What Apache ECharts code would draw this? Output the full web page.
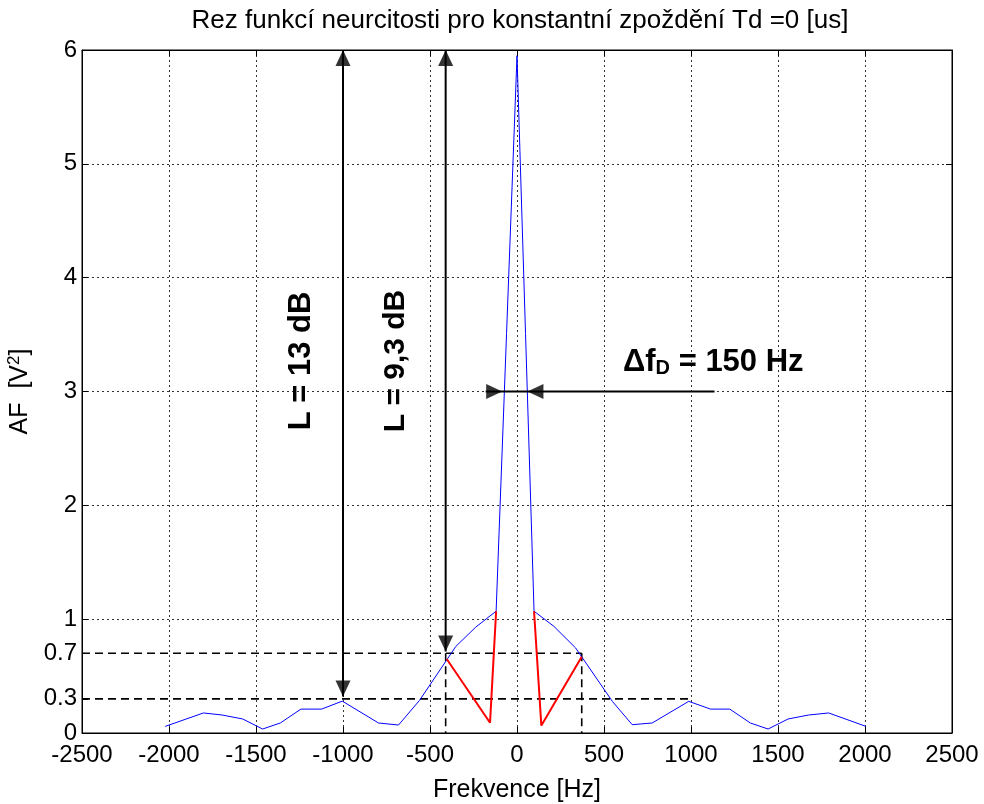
<!DOCTYPE html>
<html>
<head>
<meta charset="utf-8">
<script src="https://cdn.jsdelivr.net/npm/echarts@6/dist/echarts.min.js"></script>
<style>
  html, body { margin: 0; padding: 0; background: #fff; }
  #chart { width: 984px; height: 804px; }
</style>
</head>
<body>
<div id="chart"></div>
<script>
// řez funkcí neurčitosti
const freqBlue = [-2022, -1802, -1695, -1576, -1462, -1360, -1242, -1123, -1004, -796, -681, -560,
                  -352, -237, -120, 0, 98, 212, 337, 548, 662, 777, 987, 1112, 1223, 1341, 1443,
                  1558, 1676, 1791, 2006];
const afBlue = [0.058, 0.176, 0.158, 0.123, 0.035, 0.088, 0.21, 0.21, 0.28, 0.088, 0.07, 0.287,
                0.76, 0.93, 1.07, 5.95, 1.07, 0.937, 0.747, 0.278, 0.073, 0.088, 0.278, 0.21, 0.21,
                0.088, 0.035, 0.123, 0.158, 0.176, 0.058];

// červené úseky (postranní laloky)
const freqRedLeft = [-404, -155, -120];
const afRedLeft = [0.65, 0.09, 1.07];
const freqRedRight = [98, 140, 372];
const afRedRight = [1.07, 0.065, 0.67];

// osy
const yTicks = [0, 0.3, 0.7, 1, 2, 3, 4, 5, 6];

// pomocné čáry (úrovně 0.3 a 0.7)
const levelLow = 0.3, levelHigh = 0.7;
const levelLowEnd = 1000, levelHighEnd = 372;
const markLeftF = -410, markRightF = 372;

// šipky L = 13 dB, L = 9,3 dB a delta f
const arrowL13 = { f: -1000, from: 6, to: 0.32 };
const arrowL93 = { f: -410, from: 6, to: 0.715 };
const arrowDf = { y: 3, lineFrom: -180, lineTo: 1135, tipLeft: -85, tipRight: 60 };

const FONT = "'Liberation Sans', Arial, sans-serif";
const GRID = { left: 82, right: 32, top: 50, bottom: 71 };
const plotW = 984 - GRID.left - GRID.right;
const plotH = 804 - GRID.top - GRID.bottom;
const pxPerHz = plotW / 5000;
const pxPerUnit = plotH / 6;
const HEAD = [15, 16]; // šířka, délka hrotu

const pairs = (xs, ys) => xs.map((x, i) => [x, ys[i]]);

function seg(data, style) {
    return {
        type: 'line', data: data, symbol: 'none', silent: true,
        lineStyle: Object.assign({ color: '#000', width: 2 }, style),
        z: style.z || 3
    };
}

// střed hrotu tak, aby špička ležela přesně v bodě
function head(x, y, dir) {
    const half = HEAD[1] / 2;
    if (dir === 'up') return { value: [x, y - half / pxPerUnit], symbolRotate: 0 };
    if (dir === 'down') return { value: [x, y + half / pxPerUnit], symbolRotate: 180 };
    if (dir === 'right') return { value: [x - half / pxPerHz, y], symbolRotate: -90 };
    return { value: [x + half / pxPerHz, y], symbolRotate: 90 };
}

const chart = echarts.init(document.getElementById('chart'));

const dashed = { type: [8, 5], width: 1.6, z: 2 };
const dotted = { color: '#333', type: [2, 3], width: 1 };
const tick = { inside: true, length: 6, lineStyle: { color: '#000' } };

const option = {
    animation: false,
    title: {
        text: 'Rez funkcí neurcitosti pro konstantní zpoždění Td =0 [us]',
        left: GRID.left + plotW / 2 - 2,
        textAlign: 'center',
        top: 3,
        textStyle: { fontFamily: FONT, fontSize: 26, fontWeight: 'normal', color: '#000' }
    },
    grid: Object.assign({
        show: true, borderColor: '#000', borderWidth: 1,
        containLabel: false, outerBoundsMode: 'none'
    }, GRID),
    xAxis: [{
        type: 'value', min: -2500, max: 2500, interval: 500,
        name: 'Frekvence [Hz]', nameLocation: 'middle', nameGap: 45,
        nameTextStyle: { fontFamily: FONT, fontSize: 25, color: '#000' },
        axisLine: { onZero: false, lineStyle: { color: '#000', width: 1 } },
        axisTick: tick,
        axisLabel: { fontFamily: FONT, fontSize: 24, color: '#000', margin: 10,
                     formatter: v => String(v) },
        splitLine: { show: true, lineStyle: dotted }
    }, {
        type: 'value', min: -2500, max: 2500, interval: 500, position: 'top',
        axisLine: { onZero: false, lineStyle: { color: '#000' } },
        axisTick: tick,
        axisLabel: { show: false }, splitLine: { show: false }
    }],
    yAxis: [{
        type: 'value', min: 0, max: 6, interval: 1,
        name: 'AF  [V{sup|2}]', nameLocation: 'middle', nameGap: 40,
        nameTextStyle: {
            fontFamily: FONT, fontSize: 25, color: '#000',
            rich: { sup: { fontFamily: FONT, fontSize: 17, color: '#000', padding: [0, 0, 12, 0] } }
        },
        axisLine: { onZero: false, lineStyle: { color: '#000', width: 1 } },
        axisTick: Object.assign({ customValues: yTicks }, tick),
        axisLabel: { fontFamily: FONT, fontSize: 24, color: '#000', margin: 5, customValues: yTicks },
        splitLine: { show: false }
    }, {
        type: 'value', min: 0, max: 6, interval: 1, position: 'right',
        axisLine: { show: true, onZero: false, lineStyle: { color: '#000' } },
        axisTick: Object.assign({ show: true }, tick),
        axisLabel: { show: false },
        splitLine: { show: true, lineStyle: dotted }
    }],
    series: [
        // přerušované úrovně
        seg([[-2500, levelHigh], [levelHighEnd, levelHigh]], dashed),
        seg([[-2500, levelLow], [levelLowEnd, levelLow]], dashed),
        seg([[markLeftF, levelHigh], [markLeftF, 0]], dashed),
        seg([[markRightF, levelHigh], [markRightF, 0]], dashed),
        // průběh AF
        {
            type: 'line', data: pairs(freqBlue, afBlue), symbol: 'none', silent: true,
            lineStyle: { color: '#0000ff', width: 1 }, z: 4
        },
        seg(pairs(freqRedLeft, afRedLeft), { color: '#ff0000', width: 2, z: 5 }),
        seg(pairs(freqRedRight, afRedRight), { color: '#ff0000', width: 2, z: 5 }),
        // šipky
        seg([[arrowL13.f, arrowL13.from], [arrowL13.f, arrowL13.to]], { width: 2, z: 6 }),
        seg([[arrowL93.f, arrowL93.from], [arrowL93.f, arrowL93.to]], { width: 2, z: 6 }),
        seg([[arrowDf.lineFrom, arrowDf.y], [arrowDf.lineTo, arrowDf.y]], { width: 2, z: 6 }),
        {
            type: 'scatter', symbol: 'triangle', symbolSize: HEAD, silent: true, z: 7,
            itemStyle: { color: '#000' },
            data: [
                head(arrowL13.f, arrowL13.from, 'up'),
                head(arrowL13.f, arrowL13.to, 'down'),
                head(arrowL93.f, arrowL93.from, 'up'),
                head(arrowL93.f, arrowL93.to, 'down'),
                head(arrowDf.tipLeft, arrowDf.y, 'right'),
                head(arrowDf.tipRight, arrowDf.y, 'left')
            ]
        }
    ],
    graphic: [
        {
            type: 'text', x: 623, y: 362, z: 10,
            style: {
                text: 'Δf{sub|D} = 150 Hz', fill: '#000', verticalAlign: 'middle',
                fontFamily: FONT, fontSize: 31, fontWeight: 'bold',
                rich: { sub: { fontFamily: FONT, fontSize: 20, fontWeight: 'bold', fill: '#000', padding: [12, 0, 0, 0] } }
            }
        },
        {
            type: 'text', x: 301, y: 361, rotation: Math.PI / 2, z: 10,
            style: { text: 'L = 13 dB', fill: '#000', align: 'center', verticalAlign: 'middle',
                     fontFamily: FONT, fontSize: 31, fontWeight: 'bold' }
        },
        {
            type: 'text', x: 396, y: 361, rotation: Math.PI / 2, z: 10,
            style: { text: 'L = 9,3 dB', fill: '#000', align: 'center', verticalAlign: 'middle',
                     fontFamily: FONT, fontSize: 30, fontWeight: 'bold' }
        }
    ]
};

chart.setOption(option);
</script>
</body>
</html>
